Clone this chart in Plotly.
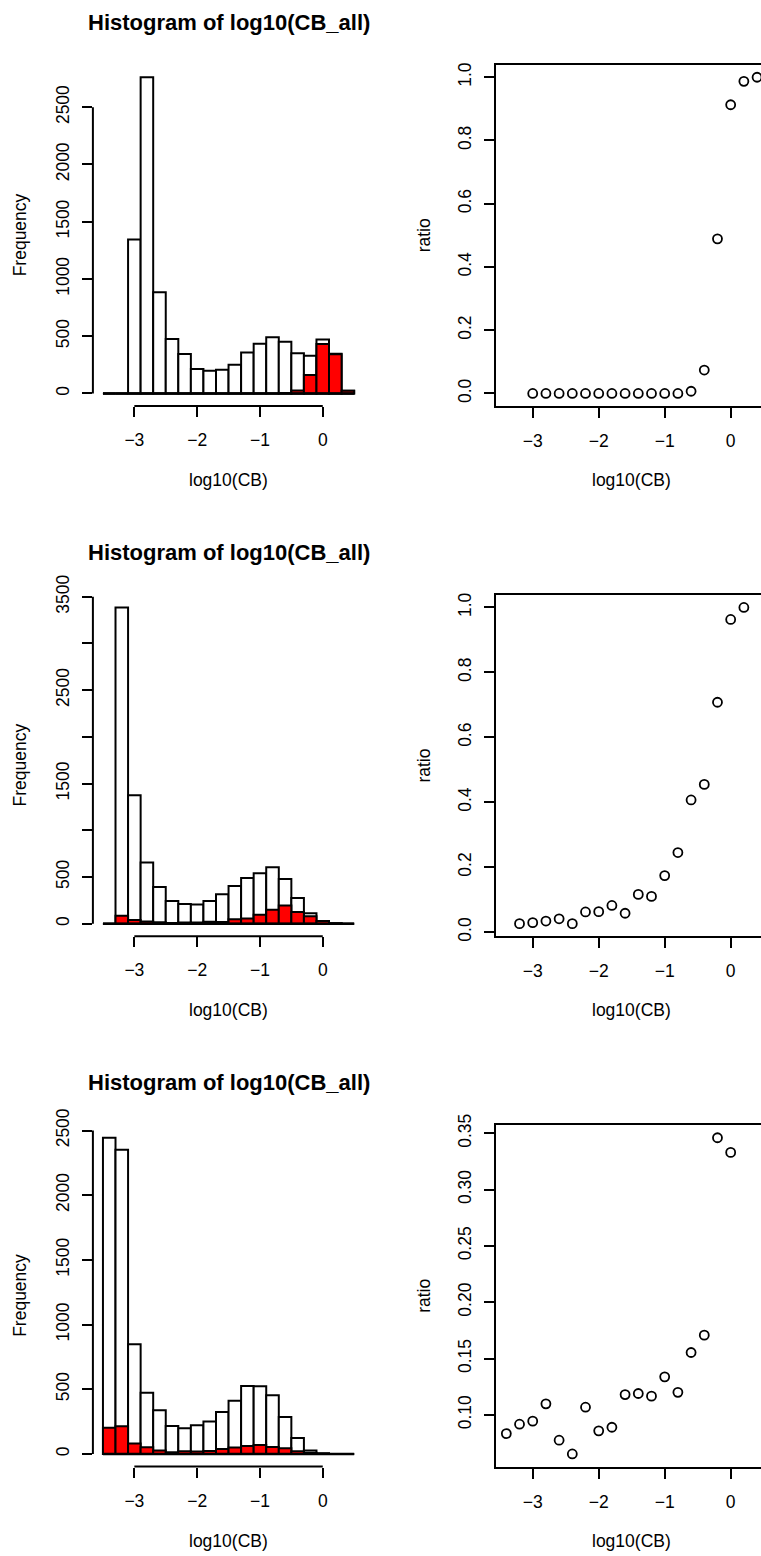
import plotly.graph_objects as go

# ---------------- data ----------------
bin_breaks = [-3.5, -3.3, -3.1, -2.9, -2.7, -2.5, -2.3, -2.1, -1.9, -1.7, -1.5,
              -1.3, -1.1, -0.9, -0.7, -0.5, -0.3, -0.1, 0.1, 0.3, 0.5]
bin_mids = [-3.4, -3.2, -3.0, -2.8, -2.6, -2.4, -2.2, -2.0, -1.8, -1.6,
            -1.4, -1.2, -1.0, -0.8, -0.6, -0.4, -0.2, 0.0, 0.2, 0.4]

counts_all_1 = [0, 0, 1345, 2762, 883, 475, 344, 213, 198, 207,
                251, 358, 434, 492, 452, 352, 329, 472, 347, 23]
counts_red_1 = [0, 0, 0, 0, 0, 0, 0, 0, 0, 0,
                0, 0, 0, 0, 3, 26, 161, 431, 342, 23]
ratio_1 = [None, None, 0, 0, 0, 0, 0, 0, 0, 0,
           0, 0, 0, 0, 0.007, 0.074, 0.489, 0.913, 0.987, 1.0]

counts_all_2 = [0, 3386, 1375, 654, 393, 243, 211, 204, 243, 314,
                404, 489, 539, 604, 479, 275, 111, 29, 3, 0]
counts_red_2 = [0, 85, 39, 22, 16, 6, 13, 13, 20, 18,
                47, 54, 94, 148, 195, 125, 79, 28, 3, 0]
ratio_2 = [None, 0.026, 0.029, 0.034, 0.041, 0.026, 0.062, 0.063, 0.082, 0.058,
           0.116, 0.110, 0.174, 0.245, 0.407, 0.455, 0.708, 0.963, 1.0, None]

counts_all_3 = [2444, 2351, 847, 474, 337, 216, 198, 221, 250, 324,
                412, 525, 523, 453, 286, 124, 26, 6, 0, 0]
counts_red_3 = [203, 214, 80, 52, 26, 14, 21, 19, 22, 38,
                49, 61, 70, 54, 44, 21, 9, 2, 0, 0]
ratio_3 = [0.0834, 0.0917, 0.0944, 0.1098, 0.0775, 0.0653, 0.1068, 0.0858, 0.089, 0.118,
           0.119, 0.1166, 0.1338, 0.120, 0.1554, 0.1708, 0.3461, 0.3331, None, None]

x_ticks = [-3, -2, -1, 0]
hist_yticks_1 = [0, 500, 1000, 1500, 2000, 2500]
hist_ylabels_1 = ["0", "500", "1000", "1500", "2000", "2500"]
hist_yticks_2 = [0, 500, 1000, 1500, 2000, 2500, 3000, 3500]
hist_ylabels_2 = ["0", "500", "", "1500", "", "2500", "", "3500"]
hist_yticks_3 = [0, 500, 1000, 1500, 2000, 2500]
hist_ylabels_3 = ["0", "500", "1000", "1500", "2000", "2500"]
ratio_yticks_12 = [0.0, 0.2, 0.4, 0.6, 0.8, 1.0]
ratio_yticks_3 = [0.10, 0.15, 0.20, 0.25, 0.30, 0.35]

title_text = "Histogram of log10(CB_all)"
xlab_text = "log10(CB)"

panels = [
    (counts_all_1, counts_red_1, ratio_1, hist_yticks_1, hist_ylabels_1, ratio_yticks_12, ".1f"),
    (counts_all_2, counts_red_2, ratio_2, hist_yticks_2, hist_ylabels_2, ratio_yticks_12, ".1f"),
    (counts_all_3, counts_red_3, ratio_3, hist_yticks_3, hist_ylabels_3, ratio_yticks_3, ".2f"),
]

# ---------------- layout geometry ----------------
W, H = 761, 1556
FONT = "Liberation Sans, Arial, Helvetica, sans-serif"
FS = 17.5
LW = 2
row_tops = [64.6, 594.8, 1125.1]
row_h = 341.5
hist_px = (92.9, 364.2)
ratio_px = (496.3, 761.0)

def px_x(p):
    return p / W

def px_y(p):
    return 1 - p / H

fig = go.Figure()
layout = dict(
    width=W, height=H,
    margin=dict(l=0, r=0, t=0, b=0, pad=0, autoexpand=False),
    paper_bgcolor="white", plot_bgcolor="white",
    showlegend=False, barmode="overlay",
    font=dict(family=FONT, size=FS, color="black"),
)
shapes = []
annotations = []

hist_xrange = [bin_breaks[0] - 0.04 * (bin_breaks[-1] - bin_breaks[0]),
               bin_breaks[-1] + 0.04 * (bin_breaks[-1] - bin_breaks[0])]
mid_lo, mid_hi = bin_mids[0], bin_mids[-1]
ratio_left = mid_lo - 0.04 * (mid_hi - mid_lo)
ratio_right_full = mid_hi + 0.04 * (mid_hi - mid_lo)
# the picture is cropped at the right edge of the page
ratio_right = ratio_left + (ratio_right_full - ratio_left) * (ratio_px[1] - ratio_px[0]) / (767.1 - ratio_px[0])

bin_w = bin_breaks[1] - bin_breaks[0]
X_STANDOFF = 8
Y_STANDOFF = 6

for i, (c_all, c_red, rat, hyt, hyl, ryt, rfmt) in enumerate(panels):
    top = row_tops[i]
    bot = top + row_h
    ydom = [px_y(bot), px_y(top)]
    hx = 2 * i + 1
    rx = 2 * i + 2
    hxn = "x" if hx == 1 else f"x{hx}"
    hyn = "y" if hx == 1 else f"y{hx}"
    rxn = f"x{rx}"
    ryn = f"y{rx}"

    # histogram
    fig.add_trace(go.Bar(x=bin_mids, y=c_all, width=bin_w, xaxis=hxn, yaxis=hyn,
                         marker=dict(color="white", line=dict(color="black", width=LW))))
    fig.add_trace(go.Bar(x=bin_mids, y=c_red, width=bin_w, xaxis=hxn, yaxis=hyn,
                         marker=dict(color="#FF0000", line=dict(color="black", width=LW))))
    cmax = max(c_all)
    layout[f"xaxis{hx}"] = dict(domain=[px_x(hist_px[0]), px_x(hist_px[1])], anchor=hyn,
                                range=hist_xrange, tickvals=x_ticks, ticks="outside",
                                ticklen=10, tickwidth=LW, tickcolor="black",
                                ticklabelstandoff=X_STANDOFF,
                                showline=False, showgrid=False, zeroline=False,
                                automargin=False,
                                tickfont=dict(size=FS), fixedrange=True)
    layout[f"yaxis{hx}"] = dict(domain=ydom, anchor=hxn,
                                range=[-0.04 * cmax, 1.04 * cmax],
                                tickvals=hyt, ticktext=hyl, ticks="outside",
                                ticklen=10, tickwidth=LW, tickcolor="black", tickangle=-90,
                                ticklabelstandoff=Y_STANDOFF,
                                showline=False, showgrid=False, zeroline=False,
                                automargin=False,
                                tickfont=dict(size=FS), fixedrange=True)
    # R-style axis lines spanning first..last tick
    shapes.append(dict(type="line", xref=hxn, yref=f"{hyn} domain",
                       x0=x_ticks[0], x1=x_ticks[-1], y0=0, y1=0,
                       line=dict(color="black", width=LW)))
    shapes.append(dict(type="line", xref=f"{hxn} domain", yref=hyn,
                       x0=0, x1=0, y0=hyt[0], y1=hyt[-1],
                       line=dict(color="black", width=LW)))
    # baseline of empty bins
    shapes.append(dict(type="line", xref=hxn, yref=hyn,
                       x0=bin_breaks[0], x1=bin_breaks[-1], y0=0, y1=0,
                       line=dict(color="black", width=2.5)))

    # ratio scatter
    fig.add_trace(go.Scatter(x=bin_mids, y=rat, mode="markers", xaxis=rxn, yaxis=ryn,
                             marker=dict(symbol="circle-open", size=9, color="black",
                                         line=dict(color="black", width=1.8))))
    vals = [v for v in rat if v is not None]
    rlo, rhi = min(vals), max(vals)
    pad = 0.04 * (rhi - rlo)
    layout[f"xaxis{rx}"] = dict(domain=[px_x(ratio_px[0]), 1.0], anchor=ryn,
                                range=[ratio_left, ratio_right], tickvals=x_ticks,
                                ticks="outside", ticklen=10, tickwidth=LW, tickcolor="black",
                                ticklabelstandoff=X_STANDOFF,
                                showline=True, linecolor="black", linewidth=LW, mirror=True,
                                showgrid=False, zeroline=False, tickfont=dict(size=FS),
                                automargin=False, fixedrange=True)
    layout[f"yaxis{rx}"] = dict(domain=ydom, anchor=rxn,
                                range=[rlo - pad, rhi + pad], tickvals=ryt, tickformat=rfmt,
                                ticks="outside", ticklen=10, tickwidth=LW, tickcolor="black",
                                tickangle=-90, ticklabelstandoff=Y_STANDOFF,
                                showline=True, linecolor="black", linewidth=LW,
                                mirror=False, showgrid=False, zeroline=False,
                                automargin=False,
                                tickfont=dict(size=FS), fixedrange=True)

    # titles and axis labels
    annotations.append(dict(text=f"<b>{title_text}</b>", xref="paper", yref="paper",
                            x=px_x((hist_px[0] + hist_px[1]) / 2), y=px_y(top - 42.5),
                            xanchor="center", yanchor="middle", showarrow=False,
                            font=dict(size=22, family=FONT, color="black")))
    annotations.append(dict(text=xlab_text, xref="paper", yref="paper",
                            x=px_x((hist_px[0] + hist_px[1]) / 2), y=px_y(top + 415.5),
                            xanchor="center", yanchor="middle", showarrow=False,
                            font=dict(size=FS, family=FONT, color="black")))
    annotations.append(dict(text=xlab_text, xref="paper", yref="paper",
                            x=px_x((ratio_px[0] + 767.1) / 2), y=px_y(top + 415.5),
                            xanchor="center", yanchor="middle", showarrow=False,
                            font=dict(size=FS, family=FONT, color="black")))
    annotations.append(dict(text="Frequency", xref="paper", yref="paper",
                            x=px_x(20), y=px_y((top + bot) / 2), textangle=-90,
                            xanchor="center", yanchor="middle", showarrow=False,
                            font=dict(size=FS, family=FONT, color="black")))
    annotations.append(dict(text="ratio", xref="paper", yref="paper",
                            x=px_x(424), y=px_y((top + bot) / 2), textangle=-90,
                            xanchor="center", yanchor="middle", showarrow=False,
                            font=dict(size=FS, family=FONT, color="black")))

layout["shapes"] = shapes
layout["annotations"] = annotations
fig.update_layout(**layout)
fig.write_html("out.html")
